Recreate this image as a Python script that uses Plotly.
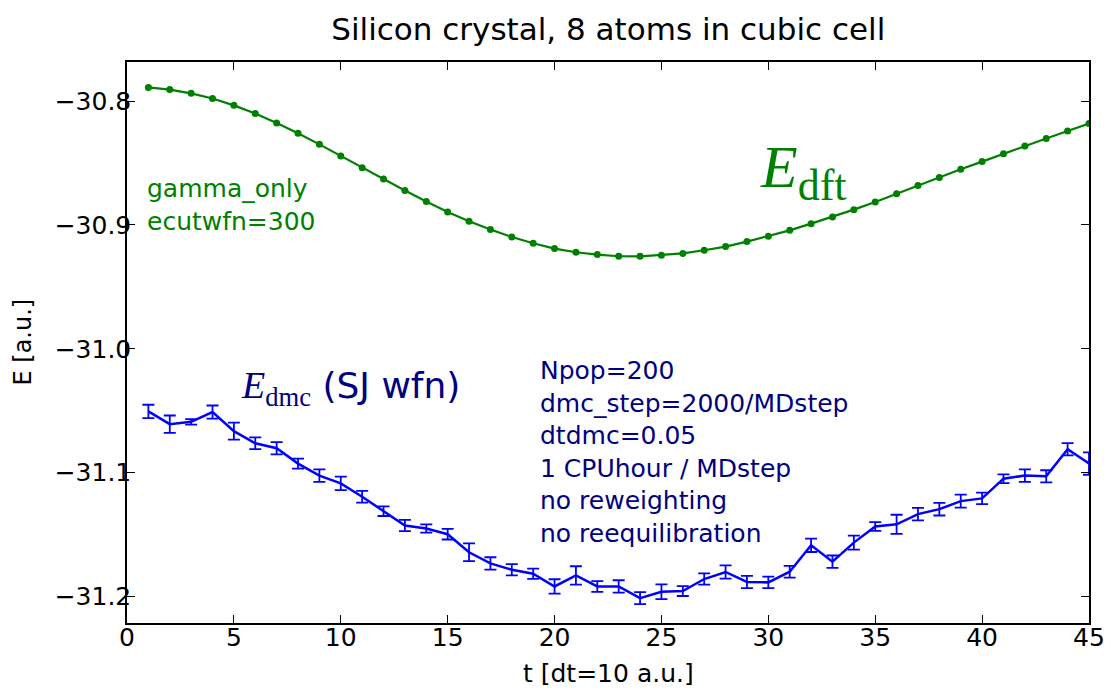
import plotly.graph_objects as go

t = list(range(1, 46))

e_dft = [-30.7890, -30.7908, -30.7938, -30.7980, -30.8035, -30.8100, -30.8178, -30.8260,
         -30.8350, -30.8444, -30.8538, -30.8630, -30.8723, -30.8812, -30.8896, -30.8971,
         -30.9038, -30.9098, -30.9148, -30.9191, -30.9221, -30.9240, -30.9253, -30.9254,
         -30.9245, -30.9230, -30.9205, -30.9175, -30.9135, -30.9092, -30.9044, -30.8990,
         -30.8936, -30.8877, -30.8815, -30.8748, -30.8683, -30.8618, -30.8551, -30.8489,
         -30.8425, -30.8363, -30.8303, -30.8242, -30.8182]

e_dmc = [-31.0506, -31.0609, -31.0590, -31.0511, -31.0665, -31.0763, -31.0803, -31.0927,
         -31.1024, -31.1087, -31.1195, -31.1311, -31.1427, -31.1451, -31.1497, -31.1643,
         -31.1733, -31.1784, -31.1816, -31.1919, -31.1830, -31.1919, -31.1919, -31.2013,
         -31.1962, -31.1956, -31.1859, -31.1802, -31.1883, -31.1886, -31.1800, -31.1587,
         -31.1719, -31.1565, -31.1435, -31.1417, -31.1335, -31.1295, -31.1230, -31.1208,
         -31.1049, -31.1024, -31.1030, -31.0811, -31.0927]

e_dmc_err = [0.0054, 0.0070, 0.0022, 0.0053, 0.0068, 0.0047, 0.0049, 0.0040,
             0.0051, 0.0054, 0.0047, 0.0039, 0.0046, 0.0034, 0.0043, 0.0072,
             0.0050, 0.0046, 0.0041, 0.0058, 0.0074, 0.0043, 0.0050, 0.0049,
             0.0060, 0.0040, 0.0045, 0.0053, 0.0049, 0.0046, 0.0047, 0.0054,
             0.0050, 0.0057, 0.0036, 0.0077, 0.0051, 0.0051, 0.0053, 0.0046,
             0.0035, 0.0051, 0.0049, 0.0049, 0.0090]

x_ticks = [0, 5, 10, 15, 20, 25, 30, 35, 40, 45]
y_ticks = [-31.2, -31.1, -31.0, -30.9, -30.8]
y_tick_labels = ["\u221231.2", "\u221231.1", "\u221231.0", "\u221230.9", "\u221230.8"]

GREEN = "#008000"
BLUE = "#0000ff"
NAVY = "#000080"
SANS = "DejaVu Sans"
SERIF = "Liberation Serif"

fig = go.Figure()

fig.add_trace(go.Scatter(
    x=t, y=e_dft, mode="lines+markers",
    line=dict(color=GREEN, width=2.2),
    marker=dict(color=GREEN, size=7),
    showlegend=False, hoverinfo="skip"))

fig.add_trace(go.Scatter(
    x=t, y=e_dmc, mode="lines",
    line=dict(color=BLUE, width=2.5),
    error_y=dict(type="data", array=e_dmc_err, visible=True,
                 color=BLUE, thickness=1.8, width=6),
    showlegend=False, hoverinfo="skip"))

annotations = [
    dict(x=0.85, y=-30.8843, xref="x", yref="y", xanchor="left", yanchor="middle",
         align="left", showarrow=False,
         text="gamma_only<br>ecutwfn=300",
         font=dict(family=SANS, size=25, color=GREEN)),
    dict(x=19.22, y=-31.0832, xref="x", yref="y", xanchor="left", yanchor="middle",
         align="left", showarrow=False,
         text="Npop=200<br>dmc_step=2000/MDstep<br>dtdmc=0.05<br>1 CPUhour / MDstep"
              "<br>no reweighting<br>no reequilibration",
         font=dict(family=SANS, size=25, color=NAVY)),
    dict(x=29.52, y=-30.8575, xref="x", yref="y", xanchor="left", yanchor="middle",
         showarrow=False,
         text="<i>E</i><sub><span style='font-size:44px'>dft</span></sub>",
         font=dict(family=SERIF, size=60, color=GREEN)),
    dict(x=5.23, y=-31.0320, xref="x", yref="y", xanchor="left", yanchor="middle",
         showarrow=False,
         text="<span style='font-family:Liberation Serif'><i>E</i><sub>dmc</sub></span>"
              "<span style='font-size:36px'> (SJ wfn)</span>",
         font=dict(family=SANS, size=38, color=NAVY)),
    dict(x=0, y=0.5, xref="paper", yref="paper", xanchor="center", yanchor="middle",
         xshift=-105, textangle=-90, showarrow=False,
         text="E [a.u.]", font=dict(family=SANS, size=24, color="black")),
    dict(x=0.5, y=0, xref="paper", yref="paper", xanchor="center", yanchor="middle",
         yshift=-50, showarrow=False,
         text="t [dt=10 a.u.]", font=dict(family=SANS, size=25, color="black")),
]

axis_common = dict(
    showline=True, linecolor="black", linewidth=1.5, mirror="ticks",
    ticks="inside", ticklen=8, tickwidth=1, tickcolor="black",
    showgrid=False, zeroline=False, automargin=False,
    tickfont=dict(family=SANS, size=25, color="black"),
)

fig.update_layout(
    width=1111, height=692,
    margin=dict(l=127, r=22, t=62, b=69),
    paper_bgcolor="white", plot_bgcolor="white",
    title=dict(text="Silicon crystal, 8 atoms in cubic cell",
               font=dict(family=SANS, size=31, color="black"),
               x=0.5475, xanchor="center", y=0.958, yanchor="middle"),
    xaxis=dict(range=[0, 45], tickvals=x_ticks, ticklabelstandoff=-9, **axis_common),
    yaxis=dict(range=[-31.2214, -30.7685], tickvals=y_ticks, ticktext=y_tick_labels,
               ticklabelstandoff=-11, **axis_common),
    annotations=annotations,
)

fig.write_html("out.html", config={"displayModeBar": False},
               post_script="document.body.style.margin='0px';")
